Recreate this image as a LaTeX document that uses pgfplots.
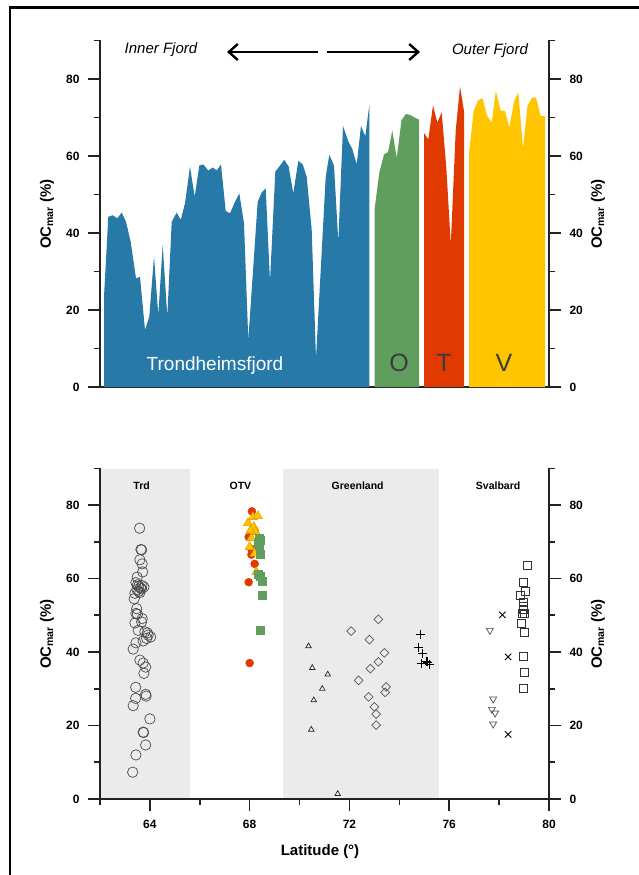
\documentclass[border=0pt]{standalone}
\usepackage{fontspec}
\setmainfont{Liberation Sans}
\usepackage{pgfplots}
\pgfplotsset{compat=1.18}
\usetikzlibrary{arrows.meta}

\definecolor{trdblue}{HTML}{2779A7}
\definecolor{ogreen}{HTML}{5F9E5C}
\definecolor{tred}{HTML}{E03A00}
\definecolor{vyellow}{HTML}{FEC500}
\definecolor{vedge}{HTML}{E8A000}
\definecolor{band}{HTML}{EBEBEB}
\definecolor{letters}{HTML}{3C3C3C}
\definecolor{axisgray}{HTML}{222222}

\pgfplotsset{
  panel/.style={
    scale only axis, width=449pt,
    ymin=0, ymax=90,
    ytick={0,20,...,80}, minor ytick={10,30,50,70,90},
    tick align=outside,
    major tick length=12pt, minor tick length=6pt,
    tick style={line width=1.6pt, axisgray},
    axis line style={-, line width=1.6pt, axisgray},
    ticklabel style={font=\fontsize{12}{14}\selectfont\bfseries},
    yticklabel shift=5pt, xticklabel shift=6pt,
    /pgf/number format/assume math mode=true,
    clip=false,
  },
}

\newcommand\oclabel{\fontsize{15}{18}\selectfont\bfseries OC\textsubscript{mar} (\%)}

\begin{document}
\begin{tikzpicture}
\useasboundingbox (0,0) rectangle (639pt,-875pt);

% frame
\draw[line width=2.8pt, black] (10pt,-875pt) -- (10pt,-7.5pt) -- (640pt,-7.5pt);

% ---------- top panel: sample position along transect vs OCmar ----------
\begin{axis}[panel, height=346.6pt, at={(100pt,-387pt)}, anchor=south west,
  xmin=0, xmax=449, axis x line*=bottom, axis y line*=left, xtick=\empty]
\addplot[fill=trdblue, draw=none] coordinates {
(4,0)(4,23.5)(8.3,44.2)(12.7,44.6)(17.3,43.8)(21.7,45.3)(26,42.9)(30.7,37.7)
(36,28.2)(40,28.6)(45,14.8)(49.3,18.3)(54,33.9)(58.3,18.7)(62.7,36.9)(67.3,18.3)
(71.7,42.9)(76.7,45.3)(80.7,43.4)(85,47.7)(90,57.2)(94.7,49.4)(99.3,57.5)(103.3,57.8)
(108.3,56.2)(112.7,57.0)(116.7,56.2)(121,57.8)(125.7,45.7)(130,45.1)(134.3,47.7)
(139.3,50.3)(144,42.5)(148.3,12.2)(157.7,48.1)(161.7,50.5)(165.7,51.6)(170,27.4)
(175.3,55.9)(180,57.5)(184.3,59.0)(188.7,57.2)(193.3,50.3)(198.3,58.7)(202.7,57.8)
(206.7,54.6)(211.7,40.8)(216,7.4)(225.7,54.6)(229.3,60.3)(234,57.5)(238.3,37.7)
(243,67.8)(248.3,63.8)(252.3,61.8)(256.7,57.8)(261,67.8)(265.3,65.1)(269.3,73.2)(269.3,0)
} -- cycle;
\addplot[fill=ogreen, draw=none] coordinates {
(274.5,0)(274.5,46.0)(279.3,55.7)(284,60.4)(288,61.0)(292.3,66.6)(296.7,59.4)
(301.5,69.3)(306,70.9)(310.5,70.6)(315,69.9)(319.2,69.4)(319.2,0)
} -- cycle;
\addplot[fill=tred, draw=none] coordinates {
(324.2,0)(324.2,65.9)(328.3,64.3)(333,73.1)(337.3,68.7)(341.7,71.3)(346.3,57)
(350.8,37.0)(355.7,66.6)(360,78.0)(364,71.7)(364,0)
} -- cycle;
\addplot[fill=vyellow, draw=none] coordinates {
(369.2,0)(369.2,61.1)(373.7,71.8)(378.3,74.5)(382.5,75.0)(387,70.5)(391.7,68.7)
(395.8,76.8)(400.7,71.8)(405,71.7)(409.3,67.3)(414.2,74.3)(418.3,76.5)(423,62.0)
(427.5,73.0)(431.7,75.0)(436,75.2)(440.7,70.4)(445,70.4)(445,0)
} -- cycle;
\node[white, font=\fontsize{19}{22}\selectfont] at (axis cs:115,5.5) {Trondheimsfjord};
\node[letters, font=\fontsize{25}{28}\selectfont] at (axis cs:299,6.2) {O};
\node[letters, font=\fontsize{25}{28}\selectfont] at (axis cs:344,6.2) {T};
\node[letters, font=\fontsize{25}{28}\selectfont] at (axis cs:404,6.2) {V};
\end{axis}
\begin{axis}[panel, height=346.6pt, at={(100pt,-387pt)}, anchor=south west,
  xmin=0, xmax=449, axis x line=none, axis y line*=right]
\addplot[draw=none] coordinates {(0,0)};
\end{axis}

% ---------- bottom panel: latitude vs OCmar ----------
\begin{axis}[panel, height=330.7pt, at={(100pt,-799pt)}, anchor=south west,
  xmin=62, xmax=80, xtick={64,68,72,76,80}, minor xtick={62,66,70,74,78},
  axis x line*=bottom, axis y line*=left]
% regional bands
\addplot[fill=band, draw=none] coordinates {(62.05,0.3)(65.6,0.3)(65.6,89.8)(62.05,89.8)} -- cycle;
\addplot[fill=band, draw=none] coordinates {(69.35,0.3)(75.6,0.3)(75.6,89.8)(69.35,89.8)} -- cycle;
% Trondheimsfjord
\addplot[only marks, mark=o, mark size=5.2pt, draw=black!70, line width=0.7pt] coordinates {
(63.59,73.7)(63.67,67.8)(63.64,67.9)(63.60,65.1)(63.69,64.0)(63.71,61.8)(63.49,60.4)
(63.44,58.9)(63.55,57.9)(63.62,57.5)(63.68,58.1)(63.76,57.7)(63.48,57.0)(63.55,56.5)
(63.40,56.0)(63.60,56.2)(63.50,58.3)(63.66,57.2)(63.37,54.5)(63.47,51.8)(63.44,50.5)
(63.50,50.3)(63.69,49.1)(63.67,48.2)(63.40,47.9)(63.53,45.9)(63.80,45.5)(63.93,44.6)
(64.03,44.1)(63.87,43.7)(63.90,45.2)(63.73,43.0)(63.44,42.5)(63.33,40.8)(63.60,37.8)
(63.73,37.0)(63.83,35.9)(63.76,34.2)(63.43,30.4)(63.43,27.4)(63.83,28.5)(63.85,28.0)
(63.33,25.4)(64.00,21.8)(63.73,18.2)(63.75,18.1)(63.83,14.7)(63.44,12.0)(63.31,7.3)
};
% OTV
\addplot[only marks, mark=*, mark size=4pt, draw=tred, fill=tred] coordinates {
(68.09,78.3)(67.96,71.3)(68.06,68.1)(68.07,66.5)(68.20,64.0)(67.96,59.0)(68.00,37.0)(68.20,73.0)
};
\addplot[only marks, mark=triangle*, mark size=5.2pt, draw=vedge, fill=vyellow, line width=0.6pt] coordinates {
(68.13,76.7)(68.33,77.0)(67.93,75.1)(68.17,74.0)(68.23,72.8)(68.07,71.0)(68.00,68.6)
(68.20,66.8)(68.27,61.8)(68.03,73.1)
};
\addplot[only marks, mark=square*, mark size=4pt, draw=ogreen, fill=ogreen] coordinates {
(68.40,71.0)(68.43,70.5)(68.33,69.5)(68.40,69.0)(68.44,66.5)(68.33,61.3)(68.44,60.7)
(68.49,59.2)(68.49,55.6)(68.44,45.9)
};
% Greenland
\addplot[only marks, mark=triangle, mark size=3.2pt, draw=black!85, line width=0.7pt] coordinates {
(70.36,41.6)(70.51,35.7)(71.13,33.9)(70.91,30.0)(70.57,26.9)(70.47,18.9)(71.53,1.4)
};
\addplot[only marks, mark=square, mark size=3.1pt, mark options={rotate=45}, draw=black!65, line width=0.7pt] coordinates {
(73.16,48.9)(72.07,45.7)(72.80,43.4)(73.40,39.8)(73.16,37.3)(72.84,35.5)(72.37,32.3)
(73.47,30.5)(73.43,29.0)(72.77,27.8)(73.00,25.1)(73.07,23.1)(73.07,20.1)
};
\addplot[only marks, mark=+, mark size=4.5pt, draw=black, line width=0.9pt] coordinates {
(74.84,44.8)(74.76,41.2)(74.93,39.6)(74.87,36.9)(75.13,37.3)(75.20,36.7)(75.09,37.5)
};
% Svalbard
\addplot[only marks, mark=triangle, mark size=4pt, mark options={rotate=180}, draw=black!70, line width=0.7pt] coordinates {
(77.63,45.9)(77.76,27.2)(77.71,24.4)(77.84,23.4)(77.76,20.4)
};
\addplot[only marks, mark=x, mark size=4.5pt, draw=black, line width=0.9pt] coordinates {
(78.13,50.1)(78.36,38.7)(78.36,17.6)
};
\addplot[only marks, mark=square, mark size=4pt, draw=black!80, line width=0.8pt] coordinates {
(79.15,63.6)(78.97,58.9)(79.04,56.6)(78.87,55.4)(78.96,53.6)(78.96,52.3)(78.97,51.5)
(79.03,50.5)(78.93,50.5)(78.91,47.8)(79.03,45.3)(78.97,38.7)(79.03,34.4)(78.97,30.0)
};
\node[font=\fontsize{10.5}{12}\selectfont\bfseries] at (axis cs:63.67,85.3) {Trd};
\node[font=\fontsize{10.5}{12}\selectfont\bfseries] at (axis cs:67.63,85.3) {OTV};
\node[font=\fontsize{10.5}{12}\selectfont\bfseries] at (axis cs:72.33,85.3) {Greenland};
\node[font=\fontsize{10.5}{12}\selectfont\bfseries] at (axis cs:77.96,85.3) {Svalbard};
\end{axis}
\begin{axis}[panel, height=330.7pt, at={(100pt,-799pt)}, anchor=south west,
  xmin=62, xmax=80, axis x line=none, axis y line*=right]
\addplot[draw=none] coordinates {(62,0)};
\end{axis}

% annotations
\node[font=\fontsize{15}{18}\selectfont\itshape] at (161pt,-50pt) {Inner Fjord};
\node[font=\fontsize{15}{18}\selectfont\itshape] at (490pt,-50.5pt) {Outer Fjord};
\draw[line width=2.4pt, -{Straight Barb[length=9pt,width=16pt,line width=2.4pt]}] (318pt,-52pt) -- (227pt,-52pt);
\draw[line width=2.4pt, -{Straight Barb[length=9pt,width=16pt,line width=2.4pt]}] (327pt,-52pt) -- (420pt,-52pt);
\node[rotate=90] at (47pt,-214pt) {\oclabel};
\node[rotate=90] at (598pt,-214pt) {\oclabel};
\node[rotate=90] at (47pt,-634pt) {\oclabel};
\node[rotate=90] at (598pt,-634pt) {\oclabel};
\node[font=\fontsize{15}{18}\selectfont\bfseries] at (320pt,-852pt) {Latitude (°)};
\end{tikzpicture}
\end{document}
